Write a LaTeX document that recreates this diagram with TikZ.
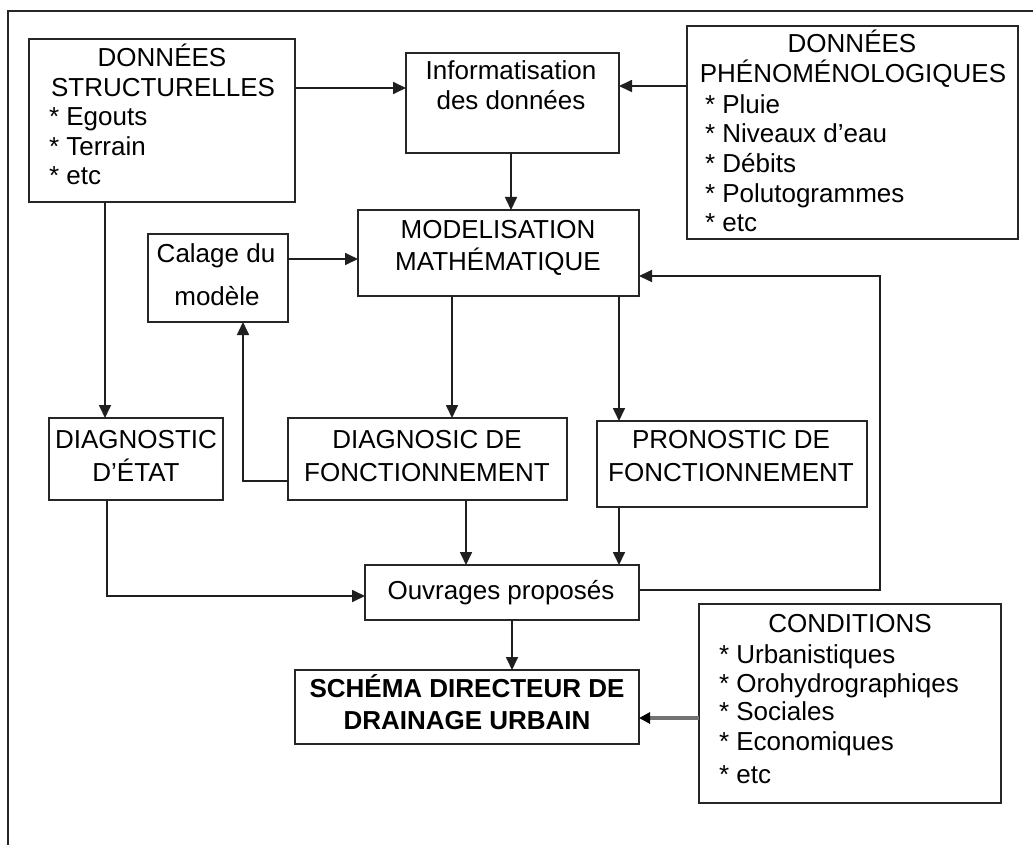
\documentclass[tikz,border=0pt]{standalone}
\usepackage{fontspec}
\setmainfont{Liberation Sans}
\usetikzlibrary{arrows.meta}
\begin{document}
\begin{tikzpicture}[x=1pt,y=-1pt,
  box/.style={draw=black!85, line width=1.7pt, rectangle, inner sep=0pt, outer sep=0pt},
  txt/.style={inner sep=0pt, outer sep=0pt, font=\fontsize{26}{30}\selectfont},
  ctr/.style={txt, anchor=base},
  lft/.style={txt, anchor=base west},
  arr/.style={draw=black!88, line width=1.7pt, -{Triangle[length=13pt,width=12pt]}},
  thickarr/.style={draw=black!55, line width=4pt, -{Triangle[length=11pt,width=11pt,color=black]}},
  frame/.style={draw=black!85, line width=1.6pt}
]
\useasboundingbox (0,0) rectangle (1033,845);
% outer frame (open to the right and bottom)
\coordinate (fa) at (8,845);
\coordinate (fb) at (8,11);
\coordinate (fc) at (1033,11);
\draw[frame] (fa) -- (fb) -- (fc);

% boxes
\node[box, minimum width=266pt, minimum height=163pt] (struct) at (162,120.5) {};
\node[box, minimum width=213pt, minimum height=100pt] (info)   at (512.5,103) {};
\node[box, minimum width=331pt, minimum height=213pt] (phen)   at (852.5,132.5) {};
\node[box, minimum width=281pt, minimum height=86pt]  (model)  at (498.5,253) {};
\node[box, minimum width=140pt, minimum height=88pt]  (calage) at (218,278) {};
\node[box, minimum width=174pt, minimum height=82pt]  (diagE)  at (136,459) {};
\node[box, minimum width=279pt, minimum height=82pt]  (diagF)  at (427.5,459) {};
\node[box, minimum width=270pt, minimum height=86pt]  (prono)  at (732,464) {};
\node[box, minimum width=274pt, minimum height=55pt]  (ouvr)   at (502,592.5) {};
\node[box, minimum width=344pt, minimum height=74pt]  (schema) at (467,707) {};
\node[box, minimum width=302pt, minimum height=199pt] (cond)   at (850,703.5) {};

% texts
\node[ctr] (s1) at (162,67) {DONNÉES};
\node[ctr] (s2) at (163,97) {STRUCTURELLES};
\node[lft] (s3) at (49,126) {* Egouts};
\node[lft] (s4) at (49,156) {* Terrain};
\node[lft] (s5) at (49,185) {* etc};

\node[ctr] (i1) at (511,80) {Informatisation};
\node[ctr] (i2) at (511,110) {des données};

\node[ctr] (p1) at (852,53) {DONNÉES};
\node[ctr] (p2) at (853,83) {PHÉNOMÉNOLOGIQUES};
\node[lft] (p3) at (705,114) {* Pluie};
\node[lft] (p4) at (705,143) {* Niveaux d’eau};
\node[lft] (p5) at (705,173) {* Débits};
\node[lft] (p6) at (705,203) {* Polutogrammes};
\node[lft] (p7) at (705,232) {* etc};

\node[ctr] (m1) at (498,238) {MODELISATION};
\node[ctr] (m2) at (498,270) {MATHÉMATIQUE};

\node[ctr] (c1) at (216,262) {Calage du};
\node[ctr] (c2) at (217,305) {modèle};

\node[ctr] (e1) at (136,448) {DIAGNOSTIC};
\node[ctr] (e2) at (136,481) {D’ÉTAT};

\node[ctr] (f1) at (427,448) {DIAGNOSIC DE};
\node[ctr] (f2) at (427,481) {FONCTIONNEMENT};

\node[ctr] (r1) at (731,448) {PRONOSTIC DE};
\node[ctr] (r2) at (731,481) {FONCTIONNEMENT};

\node[ctr] (o1) at (501,599) {Ouvrages proposés};

\node[ctr, font=\fontsize{26}{30}\selectfont\bfseries] (h1) at (467,697) {SCHÉMA DIRECTEUR DE};
\node[ctr, font=\fontsize{26}{30}\selectfont\bfseries] (h2) at (467,729) {DRAINAGE URBAIN};

\node[ctr] (k1) at (850,632) {CONDITIONS};
\node[lft] (k2) at (719,663) {* Urbanistiques};
\node[lft] (k3) at (719,692) {* Orohydrographiqes};
\node[lft] (k4) at (719,720) {* Sociales};
\node[lft] (k5) at (719,750) {* Economiques};
\node[lft] (k6) at (719,783) {* etc};

% helper coordinates for connector routing
\coordinate (y88)  at (0,88);
\coordinate (y86)  at (0,86);
\coordinate (y259) at (0,259);
\coordinate (x105) at (105,0);
\coordinate (x452) at (452,0);
\coordinate (x619) at (619,0);
\coordinate (y481) at (0,481);
\coordinate (x243) at (243,0);
\coordinate (x107) at (107,0);
\coordinate (y596) at (0,596);
\coordinate (x466) at (466,0);
\coordinate (y590) at (0,590);
\coordinate (x880) at (880,0);
\coordinate (y276) at (0,276);
\coordinate (x512) at (512,0);
\coordinate (y718) at (0,718);
\coordinate (x511) at (511,0);

% connectors
\draw[arr] (struct.east |- y88) -- (info.west |- y88);
\draw[arr] (phen.west |- y86) -- (info.east |- y86);
\draw[arr] (x511 |- info.south) -- (x511 |- model.north);
\draw[arr] (calage.east |- y259) -- (model.west |- y259);
\draw[arr] (x105 |- struct.south) -- (x105 |- diagE.north);
\draw[arr] (x452 |- model.south) -- (x452 |- diagF.north);
\draw[arr] (x619 |- model.south) -- (x619 |- prono.north);
\draw[arr] (diagF.west |- y481) -- (x243 |- y481) -- (x243 |- calage.south);
\draw[arr] (x107 |- diagE.south) -- (x107 |- y596) -- (ouvr.west |- y596);
\draw[arr] (x466 |- diagF.south) -- (x466 |- ouvr.north);
\draw[arr] (x619 |- prono.south) -- (x619 |- ouvr.north);
\draw[arr] (ouvr.east |- y590) -- (x880 |- y590) -- (x880 |- y276) -- (model.east |- y276);
\draw[arr] (x512 |- ouvr.south) -- (x512 |- schema.north);
\draw[thickarr] (cond.west |- y718) -- (schema.east |- y718);
\end{tikzpicture}
\end{document}
